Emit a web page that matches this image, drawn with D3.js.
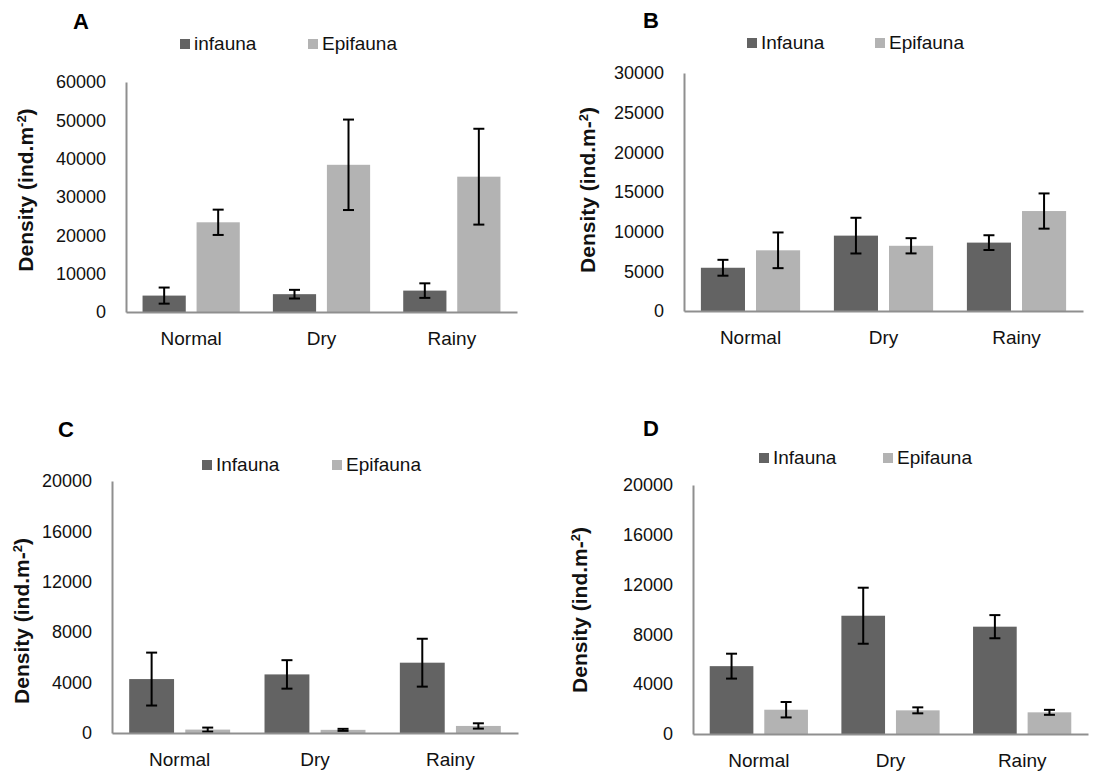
<!DOCTYPE html>
<html>
<head>
<meta charset="utf-8">
<script src="https://cdn.jsdelivr.net/npm/d3@7/dist/d3.min.js"></script>
<style>
  body { margin: 0; background: #fff; }
  svg { display: block; font-family: "Liberation Sans", Arial, sans-serif; }
</style>
</head>
<body>
<div id="canvas"></div>
<script>
// --- data ---
var categories = ['Normal', 'Dry', 'Rainy'];
var seriesKeys = ['infauna', 'epifauna'];

var infaunaA = [4280, 4650, 5580];
var infaunaErrA = [2100, 1130, 1900];
var epifaunaA = [23400, 38400, 35300];
var epifaunaErrA = [3300, 11800, 12500];

var infaunaB = [5450, 9500, 8620];
var infaunaErrB = [1000, 2250, 930];
var epifaunaB = [7650, 8220, 12600];
var epifaunaErrB = [2250, 960, 2220];

var infaunaC = [4280, 4650, 5580];
var infaunaErrC = [2100, 1130, 1900];
var epifaunaC = [270, 250, 560];
var epifaunaErrC = [160, 80, 210];

var infaunaD = [5450, 9500, 8620];
var infaunaErrD = [1000, 2250, 930];
var epifaunaD = [1950, 1900, 1740];
var epifaunaErrD = [620, 240, 200];

var ticksA = [0, 10000, 20000, 30000, 40000, 50000, 60000];
var ticksB = [0, 5000, 10000, 15000, 20000, 25000, 30000];
var ticksC = [0, 4000, 8000, 12000, 16000, 20000];
var ticksD = [0, 4000, 8000, 12000, 16000, 20000];

var legendA = ['infauna', 'Epifauna'];
var legendBCD = ['Infauna', 'Epifauna'];

var colors = { infauna: '#636363', epifauna: '#b3b3b3' };

var W = 1117, H = 771;
var svg = d3.select('#canvas').append('svg')
    .attr('width', W).attr('height', H);

// panel layout (pixel boxes)
var panels = [
  { letter: 'A', left: 126, top: 82, bottom: 312, width: 391, ticks: ticksA,
    inf: infaunaA, infErr: infaunaErrA, epi: epifaunaA, epiErr: epifaunaErrA,
    legend: legendA, lx: [180, 308], ly: 39, letterX: 81, letterY: 29,
    titleX: 26, titleY: 190, supMinus: true },
  { letter: 'B', left: 684, top: 73, bottom: 311, width: 399, ticks: ticksB,
    inf: infaunaB, infErr: infaunaErrB, epi: epifaunaB, epiErr: epifaunaErrB,
    legend: legendBCD, lx: [747, 875], ly: 38, letterX: 651, letterY: 28,
    titleX: 588, titleY: 190, supMinus: false },
  { letter: 'C', left: 112, top: 481, bottom: 733, width: 406, ticks: ticksC,
    inf: infaunaC, infErr: infaunaErrC, epi: epifaunaC, epiErr: epifaunaErrC,
    legend: legendBCD, lx: [202, 332], ly: 460, letterX: 66, letterY: 437,
    titleX: 22, titleY: 621, supMinus: false },
  { letter: 'D', left: 693, top: 485, bottom: 734, width: 395, ticks: ticksD,
    inf: infaunaD, infErr: infaunaErrD, epi: epifaunaD, epiErr: epifaunaErrD,
    legend: legendBCD, lx: [759, 883], ly: 453, letterX: 651, letterY: 436,
    titleX: 580, titleY: 610, supMinus: false }
];

var drawPanel = function(p) {
  var g = svg.append('g');
  var h = p.bottom - p.top;

  var x0 = d3.scaleBand().domain(categories).range([p.left, p.left + p.width]);
  var bw = x0.bandwidth();
  var x1 = d3.scaleBand().domain(seriesKeys)
      .range([bw * 0.127, bw * 0.873]).paddingInner(0.2);
  var y = d3.scaleLinear()
      .domain([0, p.ticks[p.ticks.length - 1]])
      .range([p.bottom, p.top]);

  var rows = [];
  categories.forEach(function(c, i) {
    rows.push({ cat: c, key: 'infauna', v: p.inf[i], e: p.infErr[i] });
    rows.push({ cat: c, key: 'epifauna', v: p.epi[i], e: p.epiErr[i] });
  });

  // bars
  g.selectAll('rect.bar').data(rows).enter().append('rect')
      .attr('class', 'bar')
      .attr('x', function(d) { return x0(d.cat) + x1(d.key); })
      .attr('y', function(d) { return y(d.v); })
      .attr('width', x1.bandwidth())
      .attr('height', function(d) { return p.bottom - y(d.v); })
      .attr('fill', function(d) { return colors[d.key]; });

  // error bars
  var cx = function(d) { return x0(d.cat) + x1(d.key) + x1.bandwidth() / 2; };
  var eb = g.selectAll('g.err').data(rows).enter().append('g')
      .attr('stroke', '#000').attr('stroke-width', 2);
  eb.append('line')
      .attr('x1', cx).attr('x2', cx)
      .attr('y1', function(d) { return y(d.v + d.e); })
      .attr('y2', function(d) { return y(Math.max(0, d.v - d.e)); });
  [1, -1].forEach(function(s) {
    eb.append('line')
        .attr('x1', function(d) { return cx(d) - 5.5; })
        .attr('x2', function(d) { return cx(d) + 5.5; })
        .attr('y1', function(d) { return y(Math.max(0, d.v + s * d.e)); })
        .attr('y2', function(d) { return y(Math.max(0, d.v + s * d.e)); });
  });

  // axes
  var yAxis = g.append('g')
      .attr('transform', 'translate(' + p.left + ',0)')
      .call(d3.axisLeft(y).tickValues(p.ticks).tickSize(0).tickPadding(20)
        .tickFormat(d3.format('d')));
  var xAxis = g.append('g')
      .attr('transform', 'translate(0,' + p.bottom + ')')
      .call(d3.axisBottom(x0).tickSize(0).tickPadding(20));
  [yAxis, xAxis].forEach(function(a) {
    a.select('.domain').attr('stroke', '#8f8f8f').attr('stroke-width', 2);
    a.selectAll('text').attr('fill', '#111')
        .attr('font-family', '"Liberation Sans", Arial, sans-serif');
  });
  yAxis.selectAll('text').attr('font-size', '18px');
  xAxis.selectAll('text').attr('font-size', '19px');

  // y title
  var t = g.append('text')
      .attr('transform', 'translate(' + p.titleX + ',' + p.titleY + ') rotate(-90)')
      .attr('text-anchor', 'middle')
      .attr('dy', '0.35em')
      .attr('font-size', '21px')
      .attr('font-weight', 'bold')
      .attr('fill', '#111');
  t.append('tspan').text('Density (ind.m' + (p.supMinus ? '' : '-'));
  t.append('tspan').attr('font-size', '13px').attr('dy', '-0.6em')
      .text(p.supMinus ? '-2' : '2');
  t.append('tspan').attr('dy', '0.35em').text(')');

  // legend
  seriesKeys.forEach(function(k, i) {
    g.append('rect')
        .attr('x', p.lx[i]).attr('y', p.ly)
        .attr('width', 10).attr('height', 10)
        .attr('fill', colors[k]);
    g.append('text')
        .attr('x', p.lx[i] + 14).attr('y', p.ly + 11)
        .attr('font-size', '19px').attr('fill', '#111')
        .text(p.legend[i]);
  });

  // panel letter
  g.append('text')
      .attr('x', p.letterX).attr('y', p.letterY)
      .attr('text-anchor', 'middle')
      .attr('font-size', '22px').attr('font-weight', 'bold')
      .attr('fill', '#000')
      .text(p.letter);
};

panels.forEach(drawPanel);
</script>
</body>
</html>
